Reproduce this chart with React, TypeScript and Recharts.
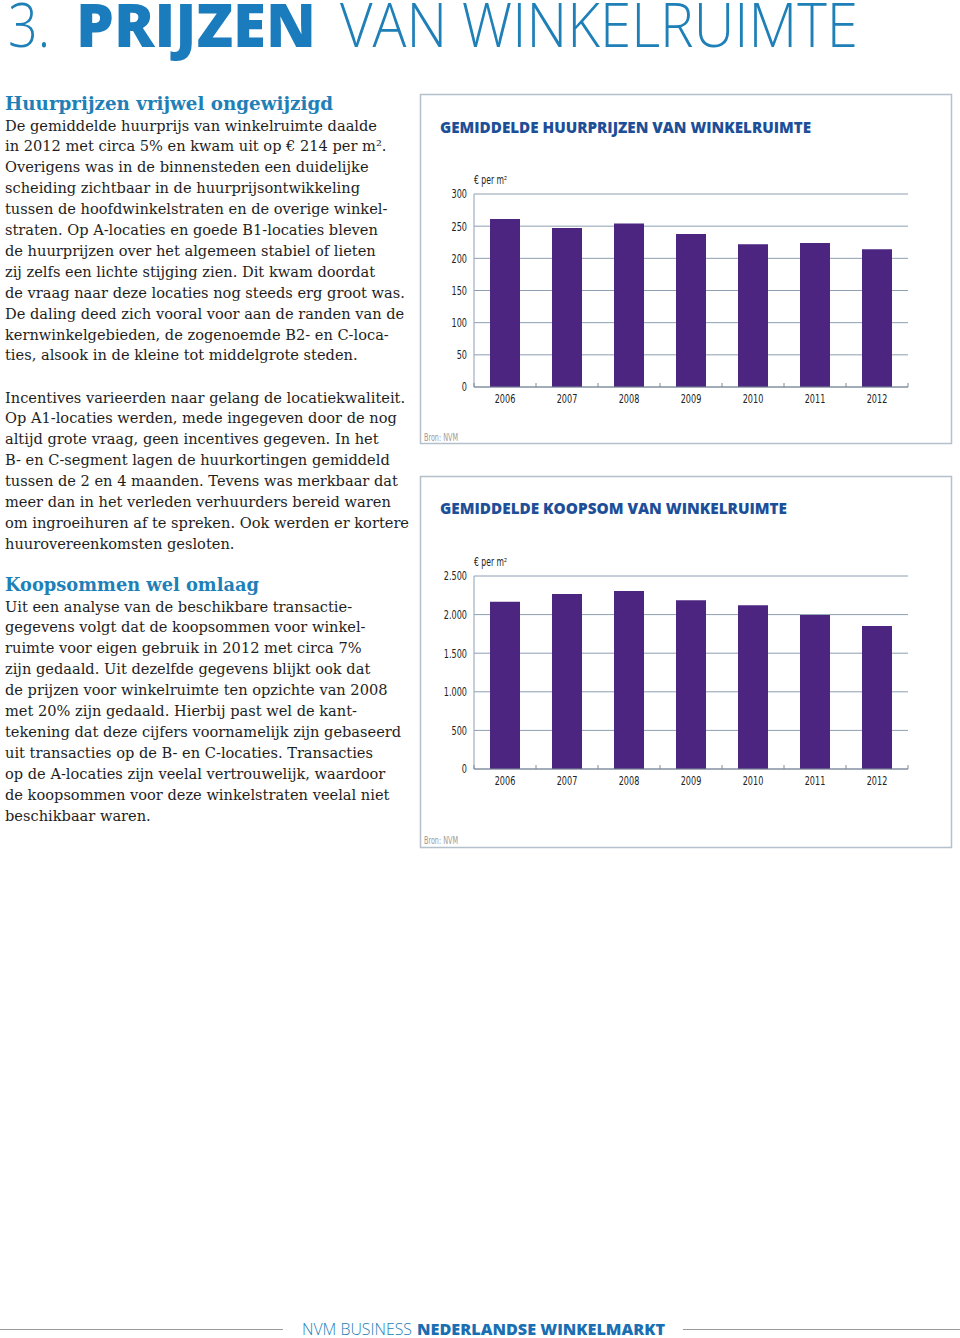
import React from 'react';
import { BarChart, Bar, XAxis, YAxis, CartesianGrid } from 'recharts';

const years = ['2006', '2007', '2008', '2009', '2010', '2011', '2012'];
const huurprijs = [261, 247, 254, 238, 222, 224, 214];
const koopsom = [2168, 2267, 2306, 2185, 2121, 1996, 1853];
const huurTicks = [0, 50, 100, 150, 200, 250, 300];
const koopTicks = [0, 500, 1000, 1500, 2000, 2500];

const block1 = [
  'De gemiddelde huurprijs van winkelruimte daalde',
  'in 2012 met circa 5% en kwam uit op € 214 per m².',
  'Overigens was in de binnensteden een duidelijke',
  'scheiding zichtbaar in de huurprijsontwikkeling',
  'tussen de hoofdwinkelstraten en de overige winkel-',
  'straten. Op A-locaties en goede B1-locaties bleven',
  'de huurprijzen over het algemeen stabiel of lieten',
  'zij zelfs een lichte stijging zien. Dit kwam doordat',
  'de vraag naar deze locaties nog steeds erg groot was.',
  'De daling deed zich vooral voor aan de randen van de',
  'kernwinkelgebieden, de zogenoemde B2- en C-loca-',
  'ties, alsook in de kleine tot middelgrote steden.',
];
const block2 = [
  'Incentives varieerden naar gelang de locatiekwaliteit.',
  'Op A1-locaties werden, mede ingegeven door de nog',
  'altijd grote vraag, geen incentives gegeven. In het',
  'B- en C-segment lagen de huurkortingen gemiddeld',
  'tussen de 2 en 4 maanden. Tevens was merkbaar dat',
  'meer dan in het verleden verhuurders bereid waren',
  'om ingroeihuren af te spreken. Ook werden er kortere',
  'huurovereenkomsten gesloten.',
];
const block3 = [
  'Uit een analyse van de beschikbare transactie-',
  'gegevens volgt dat de koopsommen voor winkel-',
  'ruimte voor eigen gebruik in 2012 met circa 7%',
  'zijn gedaald. Uit dezelfde gegevens blijkt ook dat',
  'de prijzen voor winkelruimte ten opzichte van 2008',
  'met 20% zijn gedaald. Hierbij past wel de kant-',
  'tekening dat deze cijfers voornamelijk zijn gebaseerd',
  'uit transacties op de B- en C-locaties. Transacties',
  'op de A-locaties zijn veelal vertrouwelijk, waardoor',
  'de koopsommen voor deze winkelstraten veelal niet',
  'beschikbaar waren.',
];

const huurData = years.map((y, i) => ({ year: y, value: huurprijs[i] }));
const koopData = years.map((y, i) => ({ year: y, value: koopsom[i] }));

const BAR = '#4b2580';
const GRID = '#8e9fb2';
const AXIS = '#7d8a98';
const CH_TITLE = '#1d4f98';
const HEAD_BLUE = '#1f80b8';
const condensed = '"DejaVu Sans Condensed", "DejaVu Sans", sans-serif';
const X_TICK_MARGIN = 7;

const fmtNl = (v: number) =>
  v >= 1000 ? `${Math.floor(v / 1000)}.${String(v % 1000).padStart(3, '0')}` : String(v);

const YTick = (props: any) => {
  const { x, y, payload, fmt } = props;
  return (
    <g transform={`translate(${x},${y})`}>
      <text
        transform="scale(0.72,1)"
        textAnchor="end"
        dy="0.35em"
        fontSize={12.5}
        fill="#222"
        fontFamily={condensed}
      >
        {fmt ? fmt(payload.value) : payload.value}
      </text>
    </g>
  );
};

const XTick = (props: any) => {
  const { x, y, payload, index, visibleTicksCount, width } = props;
  const half =
    payload && typeof payload.offset === 'number' && payload.offset > 0
      ? payload.offset
      : width && visibleTicksCount
      ? width / visibleTicksCount / 2
      : 0;
  const axisY = y - X_TICK_MARGIN;
  return (
    <g>
      {half > 0 && <line x1={x - half} x2={x - half} y1={axisY - 4} y2={axisY} stroke={AXIS} strokeWidth={1} />}
      {half > 0 && index === visibleTicksCount - 1 && (
        <line x1={x + half} x2={x + half} y1={axisY - 4} y2={axisY} stroke={AXIS} strokeWidth={1} />
      )}
      <g transform={`translate(${x},${y})`}>
        <text transform="scale(0.72,1)" textAnchor="middle" dy="0.75em" fontSize={12.5} fill="#222" fontFamily={condensed}>
          {payload.value}
        </text>
      </g>
    </g>
  );
};

const lineStyle = (top: number): React.CSSProperties => ({
  position: 'absolute',
  left: 5,
  top: top - 10.5,
  height: 21,
  lineHeight: '21px',
  whiteSpace: 'nowrap',
  fontFamily: '"DejaVu Serif", serif',
  fontSize: 14.6,
  color: '#1e1e1e',
});

const Lines = ({ lines, start, step }: { lines: string[]; start: number; step: number }) => (
  <>
    {lines.map((l, i) => (
      <div key={i} style={lineStyle(start + i * step)}>
        {l}
      </div>
    ))}
  </>
);

type ChartProps = {
  data: { year: string; value: number }[];
  ticks: number[];
  domainMax: number;
  top: number;
  height: number;
  plotTop: number;
  plotBottom: number;
  fmt?: (v: number) => string;
};

const PanelChart = ({ data, ticks, domainMax, top, height, plotTop, plotBottom, fmt }: ChartProps) => {
  const left = 420;
  const width = 532;
  const mTop = plotTop - top;
  const mBottom = top + height - plotBottom - 30;
  return (
    <div style={{ position: 'absolute', left, top, width, height }}>
      <BarChart
        width={width}
        height={height}
        data={data}
        margin={{ top: mTop, right: width - (908 - left), bottom: mBottom, left: 0 }}
        barCategoryGap={16}
      >
        <CartesianGrid horizontal vertical={false} stroke={GRID} strokeWidth={1} />
        <XAxis
          dataKey="year"
          height={30}
          tickLine={false}
          tickSize={0}
          tickMargin={X_TICK_MARGIN}
          axisLine={{ stroke: AXIS, strokeWidth: 1 }}
          tick={<XTick />}
          interval={0}
        />
        <YAxis
          width={54}
          domain={[0, domainMax]}
          ticks={ticks}
          tickLine={false}
          tickSize={0}
          tickMargin={7}
          axisLine={{ stroke: GRID, strokeWidth: 1 }}
          tick={<YTick fmt={fmt} />}
          interval={0}
        />
        <Bar dataKey="value" fill={BAR} isAnimationActive={false} />
      </BarChart>
    </div>
  );
};

export default function App() {
  return (
    <div style={{ position: 'absolute', left: 0, top: 0, width: 960, height: 1338, background: '#fff', overflow: 'hidden' }}>
      <svg width={960} height={1338} style={{ position: 'absolute', left: 0, top: 0 }}>
        <text x={8} y={47} fontFamily='"Open Sans", sans-serif' fontWeight={300} fontSize={60} fill={HEAD_BLUE} textLength={42} lengthAdjust="spacingAndGlyphs">3.</text>
        <text x={76} y={47} fontFamily='"Open Sans", sans-serif' fontWeight={800} fontSize={60} fill="#1a7bbd" textLength={240} lengthAdjust="spacingAndGlyphs">PRIJZEN</text>
        <text x={340} y={47} fontFamily='"Open Sans", sans-serif' fontWeight={300} fontSize={60} fill={HEAD_BLUE} textLength={518} lengthAdjust="spacingAndGlyphs">VAN WINKELRUIMTE</text>

        <text x={5} y={110} fontFamily='"DejaVu Serif", serif' fontWeight={700} fontSize={19} fill={HEAD_BLUE} textLength={328} lengthAdjust="spacingAndGlyphs">Huurprijzen vrijwel ongewijzigd</text>
        <text x={5} y={591} fontFamily='"DejaVu Serif", serif' fontWeight={700} fontSize={19} fill={HEAD_BLUE} textLength={254} lengthAdjust="spacingAndGlyphs">Koopsommen wel omlaag</text>

        <rect x={420.5} y={94.5} width={531} height={349} fill="none" stroke="#b4c0cc" strokeWidth={1.5} />
        <rect x={420.5} y={476.5} width={531} height={371} fill="none" stroke="#b4c0cc" strokeWidth={1.5} />

        <text x={440} y={133} fontFamily='"Open Sans", sans-serif' fontWeight={800} fontSize={15} fill={CH_TITLE} textLength={371} lengthAdjust="spacingAndGlyphs">GEMIDDELDE HUURPRIJZEN VAN WINKELRUIMTE</text>
        <text x={440} y={514} fontFamily='"Open Sans", sans-serif' fontWeight={800} fontSize={15} fill={CH_TITLE} textLength={347} lengthAdjust="spacingAndGlyphs">GEMIDDELDE KOOPSOM VAN WINKELRUIMTE</text>

        <text x={474} y={184} fontFamily={condensed} fontSize={11.5} fill="#222" textLength={33} lengthAdjust="spacingAndGlyphs">€ per m²</text>
        <text x={474} y={566} fontFamily={condensed} fontSize={11.5} fill="#222" textLength={33} lengthAdjust="spacingAndGlyphs">€ per m²</text>

        <text x={424} y={441} fontFamily={condensed} fontSize={10} fill="#9a9a9a" textLength={34} lengthAdjust="spacingAndGlyphs">Bron: NVM</text>
        <text x={424} y={844} fontFamily={condensed} fontSize={10} fill="#9a9a9a" textLength={34} lengthAdjust="spacingAndGlyphs">Bron: NVM</text>

        <line x1={0} y1={1329.5} x2={283} y2={1329.5} stroke="#9a9a9a" strokeWidth={1} />
        <line x1={683} y1={1329.5} x2={960} y2={1329.5} stroke="#9a9a9a" strokeWidth={1} />
        <text x={302} y={1335} fontFamily='"Open Sans", sans-serif' fontWeight={300} fontSize={16} fill={HEAD_BLUE} textLength={110} lengthAdjust="spacingAndGlyphs">NVM BUSINESS</text>
        <text x={417} y={1335} fontFamily='"Open Sans", sans-serif' fontWeight={800} fontSize={16} fill="#1a6fb3" textLength={248} lengthAdjust="spacingAndGlyphs">NEDERLANDSE WINKELMARKT</text>
      </svg>

      <Lines lines={block1} start={125} step={20.9} />
      <Lines lines={block2} start={397} step={20.9} />
      <Lines lines={block3} start={606} step={20.95} />

      <PanelChart data={huurData} ticks={huurTicks} domainMax={300} top={95} height={349} plotTop={194} plotBottom={387} />
      <PanelChart data={koopData} ticks={koopTicks} domainMax={2500} top={477} height={371} plotTop={576} plotBottom={769} fmt={fmtNl} />
    </div>
  );
}
